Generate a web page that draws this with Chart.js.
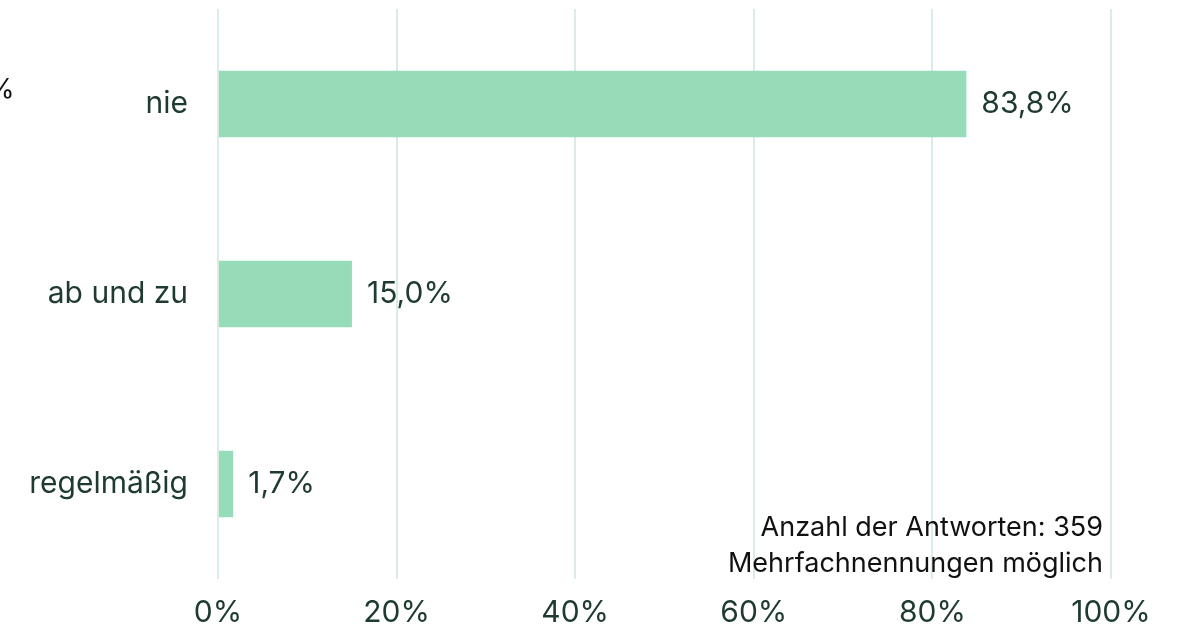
<!DOCTYPE html>
<html>
<head>
<meta charset="utf-8">
<script src="https://cdn.jsdelivr.net/npm/chart.js@4"></script>
<style>
  html, body { margin: 0; padding: 0; background: #fff; }
  #wrap { width: 1179px; height: 637px; position: relative; }
</style>
</head>
<body>
<div id="wrap"><canvas id="myChart" width="1179" height="637"></canvas></div>
<script>
// Daten
var kategorien = ["nie", "ab und zu", "regelmäßig"];
var anteile = [83.8, 15.0, 1.7];
var anmerkung = ["Anzahl der Antworten: 359", "Mehrfachnennungen möglich"];

var dunkelgruen = '#1e3a31';
var schrift = 'Inter, "Open Sans", sans-serif';

function prozent(v) {
    return v.toFixed(1).replace('.', ',') + '%';
}

// Werte rechts neben die Balken schreiben, plus Anmerkung unten rechts
var beschriftung = {
    id: 'beschriftung',
    afterDatasetsDraw: function(chart) {
        var ctx = chart.ctx;
        var meta = chart.getDatasetMeta(0);
        ctx.save();
        ctx.font = '30px ' + schrift;
        ctx.fillStyle = dunkelgruen;
        ctx.textBaseline = 'middle';
        ctx.textAlign = 'left';
        meta.data.forEach(function(bar, i) {
            ctx.fillText(prozent(anteile[i]), bar.x + 15, bar.y);
        });
        // abgeschnittener Rest links oben
        ctx.fillStyle = '#111';
        ctx.font = '27px ' + schrift;
        ctx.fillText('%', -12, 90);
        // Anmerkung
        ctx.font = '27px ' + schrift;
        ctx.textAlign = 'right';
        ctx.fillStyle = '#111';
        ctx.fillText(anmerkung[0], 1103, 528);
        ctx.fillText(anmerkung[1], 1103, 564);
        ctx.restore();
    }
};

var ctx = document.getElementById('myChart').getContext('2d');
new Chart(ctx, {
    type: 'bar',
    data: {
        labels: kategorien,
        datasets: [{
            data: anteile,
            backgroundColor: '#97dcb8',
            borderWidth: 0,
            categoryPercentage: 1,
            barPercentage: 0.35
        }]
    },
    options: {
        indexAxis: 'y',
        responsive: false,
        animation: false,
        layout: { padding: { top: 9, right: 68, left: 0, bottom: 0 } },
        plugins: {
            legend: { display: false },
            tooltip: { enabled: false }
        },
        scales: {
            x: {
                min: 0,
                max: 100,
                border: { display: false },
                grid: { color: '#d9ece6', lineWidth: 2, drawTicks: false },
                ticks: {
                    stepSize: 20,
                    padding: 16,
                    color: dunkelgruen,
                    font: { family: schrift, size: 30 },
                    callback: function(v) { return v + '%'; }
                },
                afterFit: function(scale) { scale.height = 58; }
            },
            y: {
                border: { display: false },
                grid: { display: false, drawTicks: false },
                ticks: {
                    padding: 30,
                    color: dunkelgruen,
                    font: { family: schrift, size: 30 }
                },
                afterFit: function(scale) {
                    scale.width = 218;
                    scale.paddingTop = 0;
                    scale.paddingBottom = 0;
                }
            }
        }
    },
    plugins: [beschriftung]
});
</script>
</body>
</html>
